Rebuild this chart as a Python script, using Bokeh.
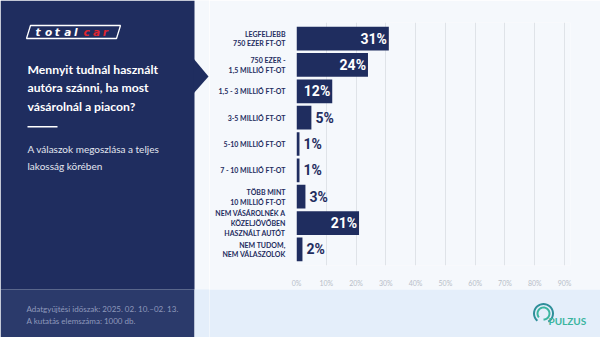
import numpy as np
from bokeh.plotting import figure
from bokeh.layouts import row, column
from bokeh.models import (ColumnDataSource, FactorRange, Range1d, FixedTicker,
                          PrintfTickFormatter, Label)
from bokeh.core.properties import value
from bokeh.embed import file_html
from bokeh.resources import INLINE

# ---------------- data ----------------
categories = [
    "LEGFELJEBB\n750 EZER FT-OT",
    "750 EZER -\n1,5 MILLIÓ FT-OT",
    "1,5 - 3 MILLIÓ FT-OT",
    "3-5 MILLIÓ FT-OT",
    "5-10 MILLIÓ FT-OT",
    "7 - 10 MILLIÓ FT-OT",
    "TÖBB MINT\n10 MILLIÓ FT-OT",
    "NEM VÁSÁROLNÉK A\nKÖZELJÖVŐBEN\nHASZNÁLT AUTÓT",
    "NEM TUDOM,\nNEM VÁLASZOLOK",
]
values = [31, 24, 12, 5, 1, 1, 3, 21, 2]
x_ticks = [0, 10, 20, 30, 40, 50, 60, 70, 80, 90]

title_text = "Mennyit tudnál használt\nautóra szánni, ha most\nvásárolnál a piacon?"
subtitle_text = "A válaszok megoszlása a teljes\nlakosság körében"
foot_text = "Adatgyűjtési időszak: 2025. 02. 10.–02. 13.\nA kutatás elemszáma: 1000 db."

NAVY = "#1f2d5f"
NAVY2 = "#2b3a6b"
BG = "#f5f8fc"
BAND = "#e4eefa"
W, H = 600, 337
LW = 209          # width of the left (panel) figure
BAND_Y = 289      # top of the bottom band

def bare(fig):
    fig.axis.visible = False
    fig.grid.grid_line_color = None
    fig.outline_line_color = None
    fig.background_fill_color = BG
    fig.border_fill_color = BG
    fig.min_border = 0
    fig.frame_align = False

# ---------------- left panel ----------------
left = figure(width=LW, height=H, x_range=Range1d(0, LW), y_range=Range1d(H, 0),
              output_backend="svg", toolbar_location=None)
bare(left)
left.quad(left=[0, 0, 194], right=[194, 194, LW], top=[0, BAND_Y, BAND_Y],
          bottom=[BAND_Y, H, H], fill_color=[NAVY, NAVY2, BAND], line_color=None)
left.patch([193, 208, 193], [58, 76, 93], fill_color=NAVY, line_color=None)
left.quad(left=[27], right=[57], top=[125.5], bottom=[127], fill_color="white",
          line_color=None)

# totalcar logo
left.patch([30, 120, 116, 26], [25, 25, 38, 38], fill_alpha=0, line_color="white",
           line_width=1.3)
logo_letters = list("totalcar")
left.text(x=[35 + 9.6 * i for i in range(8)], y=[31.8] * 8, text=logo_letters,
          text_color=["white"] * 5 + ["#e0262f"] * 3,
          text_font=value("DejaVu Sans"), text_font_style="bold italic",
          text_font_size="10.5px", text_baseline="middle", text_align="left")

left.add_layout(Label(x=27, y=61, text=title_text, text_color="white",
                      text_font="Lato", text_font_style="bold",
                      text_font_size="12.2px", text_line_height=1.26,
                      text_baseline="top"))
left.add_layout(Label(x=27, y=142, text=subtitle_text, text_color="#e3e7f0",
                      text_font="Lato", text_font_size="10px",
                      text_line_height=1.42, text_baseline="top"))
left.add_layout(Label(x=26, y=303, text=foot_text, text_color="#8f99bb",
                      text_font="Lato", text_font_size="8px",
                      text_line_height=1.25, text_baseline="top"))

# ---------------- chart ----------------
inside = [v >= 10 for v in values]
src = ColumnDataSource(dict(
    cat=categories,
    val=values,
    lbl=[f"{v}%" for v in values],
    color=["white" if i else NAVY for i in inside],
    align=["right" if i else "left" for i in inside],
    xoff=[-2 if i else 4 for i in inside],
))

p = figure(width=W - LW, height=BAND_Y, output_backend="svg", toolbar_location=None,
           y_range=FactorRange(factors=list(reversed(categories)),
                               range_padding=0.11, range_padding_units="absolute"),
           x_range=Range1d(0, 92),
           min_border_left=87, min_border_right=30,
           min_border_top=22, min_border_bottom=17)
p.background_fill_color = BG
p.border_fill_color = BG
p.outline_line_color = None
p.frame_align = False

p.hbar(y="cat", right="val", left=0, height=0.9, source=src,
       fill_color=NAVY, line_color=None)
p.text(x="val", y="cat", text="lbl", source=src, text_color="color",
       text_align="align", x_offset="xoff", text_baseline="middle",
       text_font=value("Roboto"),
       text_font_style="bold", text_font_size="14px")

p.xgrid.ticker = FixedTicker(ticks=x_ticks)
p.xgrid.grid_line_color = "#dfe3e8"
p.ygrid.grid_line_color = None
p.xaxis.ticker = FixedTicker(ticks=x_ticks)
p.xaxis.formatter = PrintfTickFormatter(format="%d%%")
p.xaxis.axis_line_color = None
p.xaxis.major_tick_line_color = None
p.xaxis.minor_tick_line_color = None
p.xaxis.major_label_standoff = 7
p.xaxis.major_label_text_font = "Lato"
p.xaxis.major_label_text_font_size = "7px"
p.xaxis.major_label_text_color = "#b8bec8"

p.yaxis.axis_line_color = None
p.yaxis.major_tick_line_color = None
p.yaxis.major_label_standoff = 5
p.yaxis.major_label_text_font = "Lato"
p.yaxis.major_label_text_font_style = "bold"
p.yaxis.major_label_text_font_size = "7px"
p.yaxis.major_label_text_color = NAVY
p.yaxis.major_label_text_line_height = 1.2

# ---------------- bottom band (right) ----------------
bot = figure(width=W - LW, height=H - BAND_Y, x_range=Range1d(LW, W),
             y_range=Range1d(H, BAND_Y), output_backend="svg", toolbar_location=None)
bare(bot)
bot.background_fill_color = BAND
bot.border_fill_color = BAND

def arc_poly(cx, cy, r0, r1, a0, a1, n=30):
    a = np.linspace(np.radians(a0), np.radians(a1), n)
    xs = list(cx + r1 * np.cos(a)) + list(cx + r0 * np.cos(a[::-1]))
    ys = list(cy - r1 * np.sin(a)) + list(cy - r0 * np.sin(a[::-1]))
    return xs, ys

for (r0, r1, a0, a1, col) in [(8.5, 10.5, -60, 230, "#2f8f9a"),
                              (5, 7, -90, 220, "#3bb5a0")]:
    xs, ys = arc_poly(543, 313, r0, r1, a0, a1)
    bot.patch(xs, ys, fill_color=col, line_color=None)
bot.add_layout(Label(x=548, y=320, text="PULZUS", text_color="#3bb5a0",
                     text_font="Lato", text_font_style="bold",
                     text_font_size="10px", text_baseline="middle"))

layout = row(left, column(p, bot, spacing=0), spacing=0)
open("out.html", "w").write(file_html(layout, INLINE))
